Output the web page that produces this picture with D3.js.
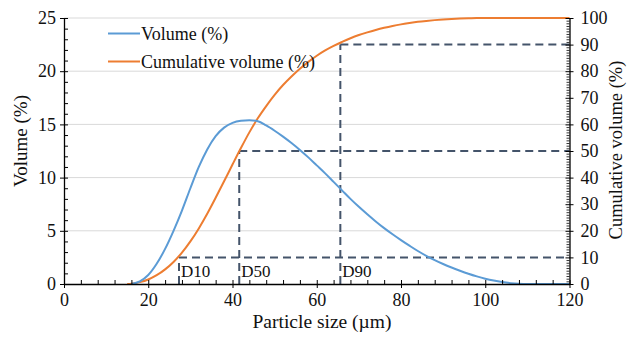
<!DOCTYPE html>
<html><head><meta charset="utf-8">
<script src="https://cdn.jsdelivr.net/npm/d3@7"></script>
<style>
body{margin:0;background:#fff;}
svg text{font-family:'Liberation Serif','Times New Roman',Tinos,'DejaVu Serif',serif !important;fill:#111;}
</style></head>
<body><svg id="c" width="627" height="337"></svg>
<script>
// Data
const volSizes = [16,18,20,22,24,26,28,30,32,34,36,38,40,42,44,46,48,50,52,54,56,58,60,62,64,66,68,70,72,74,76,78,80,82,84,86,88,90,92,94,96,98,100,102,104,106,108,110,115,120];
const volume   = [0,0.25,0.85,1.9,3.3,5.0,6.9,9.0,11.0,12.65,13.9,14.7,15.15,15.35,15.4,15.3,14.9,14.4,13.85,13.25,12.6,11.9,11.15,10.4,9.6,8.8,8.0,7.25,6.55,5.88,5.25,4.67,4.12,3.6,3.1,2.65,2.25,1.88,1.55,1.25,0.97,0.72,0.5,0.32,0.18,0.08,0.02,0,0,0];
const cumSizes = [15,16,18,20,22,24,26,28,30,32,34,36,38,40,42,44,46,48,50,52,54,56,58,60,62,64,66,68,70,72,74,76,78,80,82,84,86,88,90,92,94,96,98,100,120];
const cumulative = [0,0.1,0.7,1.7,3.3,5.5,8.3,11.8,16.0,20.9,26.4,32.4,38.6,44.9,51.1,57.0,62.3,66.9,71.1,74.8,78.0,80.9,83.5,85.8,87.8,89.5,91.0,92.4,93.6,94.6,95.5,96.3,97.0,97.6,98.1,98.55,98.9,99.2,99.45,99.65,99.8,99.9,99.97,100,100];
const dLabels = ["D10","D50","D90"];
const dSizes  = [27.3,41.6,65.6];
const dLevels = [10,50,90];
const xTicks = [0,20,40,60,80,100,120];
const yLeftTicks = [0,5,10,15,20,25];
const yRightTicks = [0,10,20,30,40,50,60,70,80,90,100];
const seriesNames = ["Volume (%)","Cumulative volume (%)"];

const svg = d3.select("#c");
const m = {l:64,r:57.5,t:18,b:53};
const W = 627, H = 337;
const x = d3.scaleLinear().domain([0,120]).range([m.l, W-m.r]);
const yL = d3.scaleLinear().domain([0,25]).range([H-m.b, m.t]);
const yR = d3.scaleLinear().domain([0,100]).range([H-m.b, m.t]);

const blue = "#5B9BD5", orange = "#ED7D31", dash = "#44546A";

// gridlines
svg.append("g").selectAll("line").data(yLeftTicks.filter(d=>d>0)).join("line")
  .attr("x1", x(0)).attr("x2", x(120))
  .attr("y1", d=>yL(d)).attr("y2", d=>yL(d))
  .attr("stroke", "#d9d9d9").attr("stroke-width", 1);

// dashed D lines
const dg = svg.append("g").attr("stroke", dash).attr("stroke-width", 2).attr("stroke-dasharray","8,5").attr("fill","none");
dSizes.forEach((s,i)=>{
  dg.append("line").attr("x1", x(s)).attr("x2", x(s)).attr("y1", yR(0)).attr("y2", yR(dLevels[i]));
  dg.append("line").attr("x1", x(s)).attr("x2", x(120)).attr("y1", yR(dLevels[i])).attr("y2", yR(dLevels[i]));
});
svg.append("g").selectAll("text").data(dLabels).join("text")
  .attr("x", (d,i)=>x(dSizes[i])+2).attr("y", yR(0)-7)
  .attr("font-size", 17).text(d=>d);

// curves
const volLine = d3.line().x((d,i)=>x(volSizes[i])).y(d=>yL(d)).curve(d3.curveMonotoneX);
const cumLine = d3.line().x((d,i)=>x(cumSizes[i])).y(d=>yR(d)).curve(d3.curveMonotoneX);
svg.append("path").datum(cumulative).attr("d", cumLine).attr("fill","none").attr("stroke",orange).attr("stroke-width",2);
svg.append("path").datum(volume).attr("d", volLine).attr("fill","none").attr("stroke",blue).attr("stroke-width",2);

// axes
function styleAxis(g){ g.attr("font-family",null); g.select(".domain").attr("stroke","#000").attr("stroke-width",1.3); g.selectAll("line").attr("stroke","#000"); g.selectAll("text").attr("font-size",18).attr("fill","#111"); }
// x axis
const xa = svg.append("g").attr("transform",`translate(0,${H-m.b})`)
  .call(d3.axisBottom(x).tickValues(xTicks).tickSize(4).tickPadding(5).tickSizeOuter(0));
styleAxis(xa);
xa.selectAll(".tick line").attr("y1",-4).attr("y2",4);
svg.append("g").attr("transform",`translate(0,${H-m.b})`)
  .call(d3.axisBottom(x).tickValues(d3.range(0,121,4).filter(d=>d%20)).tickSize(-4).tickFormat("").tickSizeOuter(0))
  .call(g=>{g.select(".domain").remove(); g.selectAll("line").attr("stroke","#000");});
// left axis
const la = svg.append("g").attr("transform",`translate(${m.l},0)`)
  .call(d3.axisLeft(yL).tickValues(yLeftTicks).tickSize(4).tickPadding(4).tickSizeOuter(0));
styleAxis(la);
la.selectAll(".tick line").attr("x1",-4).attr("x2",4);
svg.append("g").attr("transform",`translate(${m.l},0)`)
  .call(d3.axisLeft(yL).tickValues(d3.range(0,26,1).filter(d=>d%5)).tickSize(-4).tickFormat("").tickSizeOuter(0))
  .call(g=>{g.select(".domain").remove(); g.selectAll("line").attr("stroke","#000");});
// right axis
const ra = svg.append("g").attr("transform",`translate(${W-m.r},0)`)
  .call(d3.axisRight(yR).tickValues(yRightTicks).tickSize(4).tickPadding(7).tickSizeOuter(0));
styleAxis(ra);
ra.selectAll(".tick line").attr("x1",-4).attr("x2",4);
svg.append("g").attr("transform",`translate(${W-m.r},0)`)
  .call(d3.axisRight(yR).tickValues(d3.range(0,101,1).filter(d=>d%10)).tickSize(-3).tickFormat("").tickSizeOuter(0))
  .call(g=>{g.select(".domain").remove(); g.selectAll("line").attr("stroke","#000").attr("stroke-width",0.8);});

// axis titles
svg.append("text").attr("x", 322).attr("y", 328).attr("text-anchor","middle").attr("font-size",19.5).text("Particle size (µm)");
svg.append("text").attr("transform","translate(27,141) rotate(-90)").attr("text-anchor","middle").attr("font-size",19).text("Volume (%)");
svg.append("text").attr("transform","translate(622,150) rotate(-90)").attr("text-anchor","middle").attr("font-size",18.5).text("Cumulative volume (%)");

// legend
const lg = svg.append("g");
[blue, orange].forEach((c,i)=>{
  const yy = 33.5 + i*28;
  lg.append("line").attr("x1",108).attr("x2",140).attr("y1",yy).attr("y2",yy).attr("stroke",c).attr("stroke-width",2);
  lg.append("text").attr("x",141).attr("y",yy+6).attr("font-size",18).text(seriesNames[i]);
});
</script></body></html>
